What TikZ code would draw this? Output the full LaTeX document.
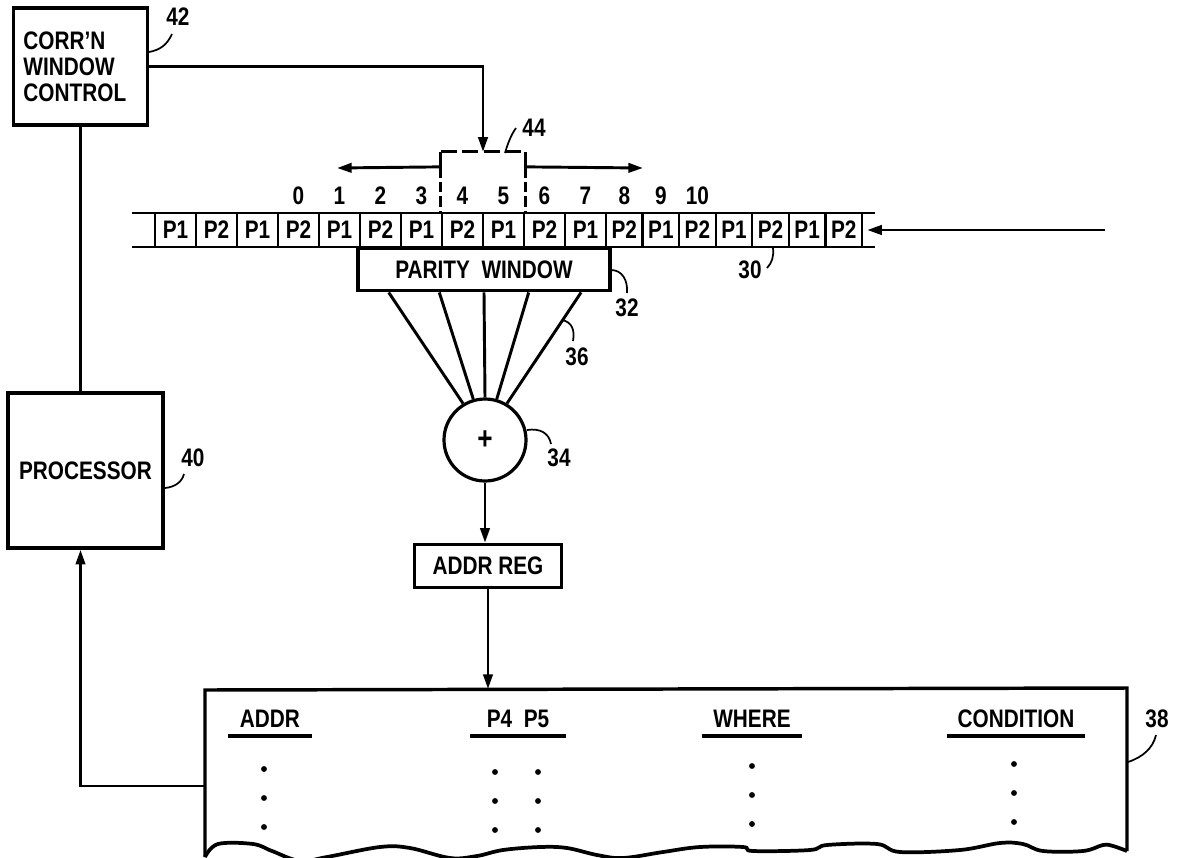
\documentclass[tikz,border=0pt]{standalone}
\usepackage{fontspec}
\setmainfont{Liberation Sans}[FakeStretch=0.82]
\usetikzlibrary{arrows.meta,calc}

\tikzset{every picture/.style={line width=2.2pt}}
\tikzset{
  box/.style={draw, line width=2.6pt, inner sep=0pt},
  cell/.style={draw, line width=1.7pt, minimum height=25.5pt, inner sep=0pt},
  arr/.style={-{Triangle[length=11pt,width=7pt]}},
  lead/.style={line width=1.3pt},
  refno/.style={inner sep=0.75pt},
  hdr/.style={anchor=south, inner xsep=0pt, inner ysep=5pt},
}

\begin{document}
\begin{tikzpicture}[x=0.75pt,y=0.75pt,yscale=-1,xscale=1,font=\fontsize{19}{19.5}\selectfont\bfseries]
		\useasboundingbox (0,0) rectangle (1178,857);
		
		%Shape: Rectangle (control)
		\node[box, text width=85.5pt, inner xsep=7.5pt, minimum height=87.75pt, align=left] (corr) at (80.5,66.5) {CORR'N\\WINDOW\\CONTROL};
		%Shape: Rectangle (processor)
		\node[box, minimum width=116.25pt, minimum height=116.25pt] (proc) at (85.5,470.5) {PROCESSOR};
		
		%Shape: bit stream
		\draw (132,213) -- (875,213);
		\draw (132,247) -- (875,247);
		\foreach \i in {0,...,17}{
			\pgfmathsetmacro\xl{\i<11 ? 155+41*\i : 606+36.57*(\i-11)}
			\pgfmathsetmacro\w{\i<11 ? 41 : 36.57}
			\pgfmathsetmacro\cw{0.75*\w}
			\pgfmathtruncatemacro\k{mod(\i,2)+1}
			\node[cell, minimum width=\cw pt] (c\i) at (\xl+\w/2,230) {P\k};
		}
		\foreach \k in {0,...,10}{
			\pgfmathtruncatemacro\j{\k+3}
			\node (n\k) at ($(c\j.north)+(0,-16)$) {\k};
		}
		\coordinate (inp) at (1105,230);
		\draw[arr] (inp) -- ($(c17.east)+(4,0)$);
		
		%Shape: sliding window
		\coordinate (ftl) at ($(c7.north west)+(0,-60)$);
		\coordinate (ftr) at ($(c8.north east)+(0,-60)$);
		\coordinate (fml) at ($(c7.north west)+(0,-45)$);
		\coordinate (fmr) at ($(c8.north east)+(0,-45)$);
		\coordinate (shl) at (337,168);
		\coordinate (shr) at (643,168);
		\draw[dash pattern=on 12pt off 4pt] (ftl) -- (ftr);
		\draw (ftl) -- (fml);
		\draw (ftr) -- (fmr);
		\draw[dash pattern=on 8pt off 3pt] (fml) -- (c7.north west);
		\draw[dash pattern=on 8pt off 3pt] (fmr) -- (c8.north east);
		\draw[arr] (fml) -- (shl);
		\draw[arr] (fmr) -- (shr);
		\draw[arr] (corr.east) -| ($(ftl)!0.5!(ftr)$);
		
		%Shape: parity window and adder
		\node[box, minimum width=189pt, minimum height=31.5pt, anchor=north] (par) at (484,247) {PARITY\ \ WINDOW};
		\node[draw, circle, line width=2.4pt, minimum size=61.5pt, inner sep=0pt, font=\fontsize{24}{24}\selectfont\bfseries] (sum) at (485,440) {+};
		\foreach \f/\a in {0.127/121, 0.325/106, 0.5/90, 0.675/74, 0.88/59}
			\draw ($(par.south west)!\f!(par.south east)$) -- (sum.\a);
		\node[box, minimum width=110.25pt, minimum height=32.25pt] (reg) at (488,566) {ADDR\ REG};
		\draw[arr] (sum.south) -- (sum.south |- reg.north);
		
		%Shape: table
		\coordinate (tin) at (488,689);
		\coordinate (tout) at (205,786);
		\draw[line width=2.6pt] (1127,851) -- (1127,688) -- (205,690) -- (205,857);
		\draw[line width=2.8pt] plot[smooth, tension=0.6] coordinates {(205,857) (218,844) (253,844) (272,851) (300,861) (327,857) (380,847) (410,848) (450,858) (477,856) (503,850) (540,847) (567,848) (597,855) (623,858) (663,852) (700,847) (743,847) (753,851) (810,850) (827,845) (877,844) (900,852) (960,850) (1000,843) (1023,844) (1043,851) (1083,851) (1103,845) (1113,846) (1127,851)};
		\draw[arr] (reg.south) -- (tin);
		\draw (corr.south) -- (corr.south |- proc.north);
		\draw[arr] (tout) -| (corr.south |- proc.south);
		
		\node[hdr, minimum width=61.5pt] (hAddr) at (270,736) {ADDR};
		\node[hdr, minimum width=69.75pt] (hPar) at (518,736) {P4\ \ P5};
		\node[hdr, minimum width=73.5pt] (hWhere) at (752,736) {WHERE};
		\node[hdr, minimum width=101.25pt] (hCond) at (1016,736) {CONDITION};
		\foreach \h in {hAddr,hPar,hWhere,hCond}
			\draw[line width=2.6pt] (\h.south west) -- (\h.south east);
		\foreach \x/\y in {264/769, 495/772, 538/772, 752/766, 1014/764}
			\foreach \d in {0,1,2}
				\fill (\x,\y+29*\d) circle (2.2pt);
		
		%Reference numerals
		\node[refno] (l42) at (178,17) {42};
		\draw[lead] (149,52) .. controls (160,50) and (167,45) .. (172,34);
		\node[refno] (l44) at (534,128) {44};
		\draw[lead] (505,153) .. controls (508,143) and (511,135) .. (516,128);
		\node[refno] (l30) at (750,270) {30};
		\draw[lead] (773,248) .. controls (774,256) and (772,263) .. (767,268);
		\node[refno] (l32) at (627,308) {32};
		\draw[lead] (611,270) .. controls (622,270) and (628,280) .. (627,293);
		\node[refno] (l36) at (577,357) {36};
		\draw[lead] (562,320) .. controls (572,322) and (575,330) .. (573,341);
		\node[refno] (l34) at (559,458) {34};
		\draw[lead] (527,430) .. controls (540,428) and (549,433) .. (551,444);
		\node[refno] (l40) at (193,458) {40};
		\draw[lead] (165,488) .. controls (175,487) and (182,482) .. (184,474);
		\node[refno] (l38) at (1157,719) {38};
		\draw[lead] (1128,762) .. controls (1143,757) and (1153,748) .. (1156,735);
		
	\end{tikzpicture}
\end{document}
